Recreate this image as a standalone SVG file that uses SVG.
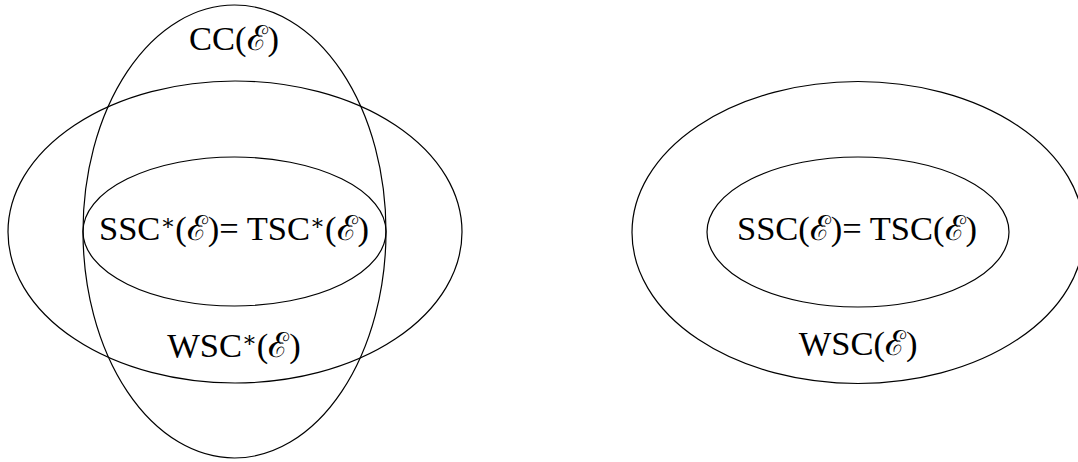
<svg xmlns="http://www.w3.org/2000/svg" width="1078" height="462" viewBox="0 0 1078 462">
<style>
.e{fill:none;stroke:#000;stroke-width:1.2}
.t{font-family:"Liberation Serif","DejaVu Serif",serif;font-size:34.5px;fill:#000;text-anchor:middle}
.s{font-family:"DejaVu Serif","Liberation Serif",serif}
.a{font-size:22px}
</style>
<rect width="1078" height="462" fill="#fff"/>
<g id="left">
<g id="cc"><ellipse class="e" cx="234.5" cy="231.5" rx="151.5" ry="226.5"/><text class="t" x="234" y="50">CC(<tspan class="s">ℰ</tspan>)</text></g>
<g id="wscstar"><ellipse class="e" cx="235" cy="232" rx="227" ry="151"/><text class="t" x="234" y="357">WSC<tspan class="a" dy="-10">∗</tspan><tspan dy="10">(</tspan><tspan class="s">ℰ</tspan>)</text></g>
<g id="sscstar"><ellipse class="e" cx="234.5" cy="231.5" rx="151.5" ry="74.5"/><text class="t" x="234" y="240">SSC<tspan class="a" dy="-10">∗</tspan><tspan dy="10">(</tspan><tspan class="s">ℰ</tspan>)= TSC<tspan class="a" dy="-10">∗</tspan><tspan dy="10">(</tspan><tspan class="s">ℰ</tspan>)</text></g>
</g>
<g id="right">
<g id="wsc"><ellipse class="e" cx="858" cy="232.5" rx="226" ry="151"/><text class="t" x="858" y="355">WSC(<tspan class="s">ℰ</tspan>)</text></g>
<g id="ssc"><ellipse class="e" cx="858" cy="232" rx="151" ry="75"/><text class="t" x="857" y="240">SSC(<tspan class="s">ℰ</tspan>)= TSC(<tspan class="s">ℰ</tspan>)</text></g>
</g>
<g id="connectors"/>
</svg>
